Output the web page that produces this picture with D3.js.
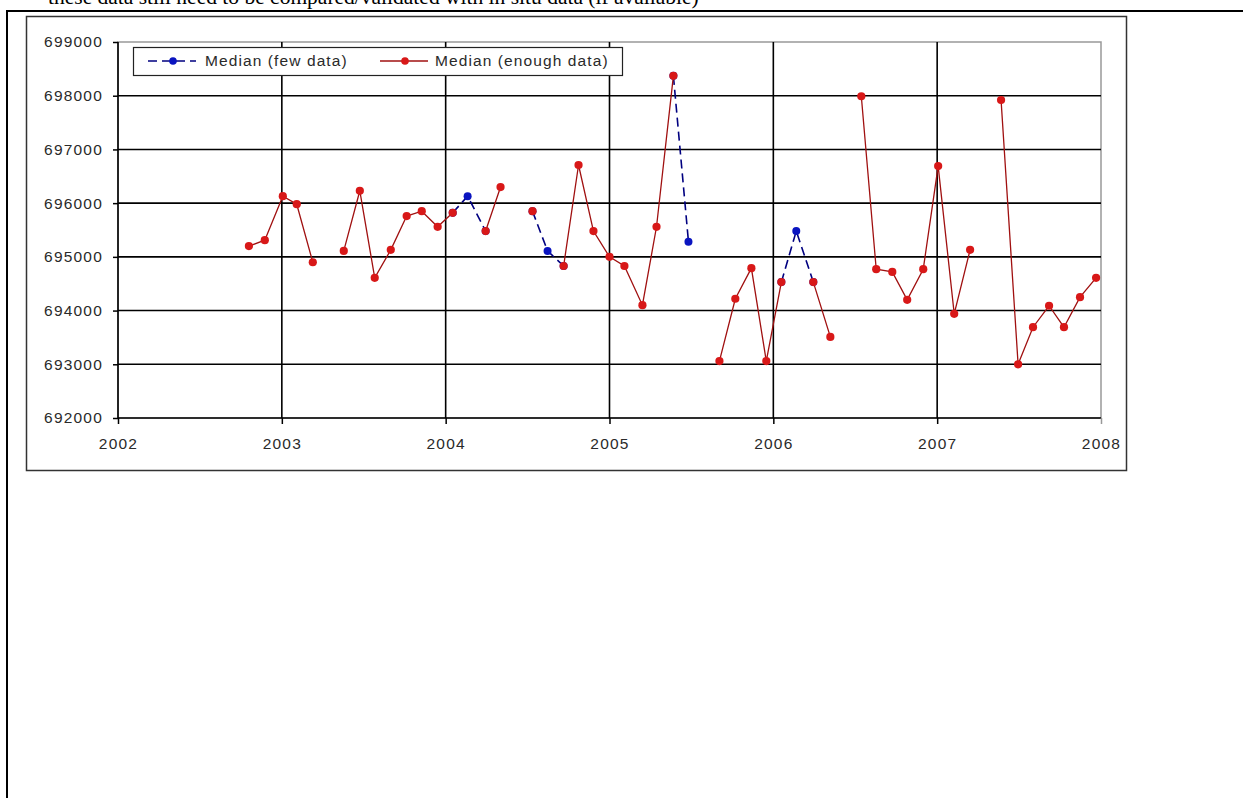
<!DOCTYPE html>
<html>
<head>
<meta charset="utf-8">
<script src="https://cdn.jsdelivr.net/npm/d3@7"></script>
<style>
  body { margin: 0; background: #fff; }
  svg { display: block; }
</style>
</head>
<body>
<div id="chart"></div>
<script>
// Median (enough data) - null breaks the line
var enoughYears = [2002.799, 2002.896, 2003.006, 2003.091, 2003.189, 2003.284, 2003.378, 2003.476, 2003.567, 2003.665,
  2003.762, 2003.854, 2003.951, 2004.043, 2004.134, 2004.244, 2004.335, 2004.433, 2004.530, 2004.622,
  2004.720, 2004.811, 2004.902, 2005.000, 2005.091, 2005.201, 2005.287, 2005.390, 2005.482, 2005.579,
  2005.671, 2005.768, 2005.866, 2005.957, 2006.049, 2006.140, 2006.244, 2006.348, 2006.442, 2006.537,
  2006.628, 2006.726, 2006.817, 2006.915, 2007.006, 2007.104, 2007.201, 2007.296, 2007.390, 2007.494,
  2007.585, 2007.683, 2007.774, 2007.872, 2007.970];
var enoughValues = [695200, 695310, 696130, 695980, 694900, null, 695110, 696230, 694610, 695130,
  695760, 695850, 695560, 695820, null, 695480, 696300, null, 695850, null,
  694830, 696710, 695480, 695000, 694830, 694100, 695560, 698370, null, null,
  693060, 694220, 694790, 693060, 694530, null, 694530, 693510, null, 697990,
  694770, 694720, 694200, 694770, 696690, 693940, 695130, null, 697920, 693000,
  693690, 694090, 693690, 694250, 694610];

// Median (few data)
var fewYears = [2004.043, 2004.134, 2004.244, 2004.433, 2004.530, 2004.622, 2004.720, 2005.000,
  2005.390, 2005.482, 2005.700, 2006.049, 2006.140, 2006.244];
var fewValues = [695820, 696130, 695480, null, 695850, 695110, 694830, null,
  698370, 695280, null, 694530, 695480, 694530];

var yTicks = [692000, 693000, 694000, 695000, 696000, 697000, 698000, 699000];
var xTicks = [2002, 2003, 2004, 2005, 2006, 2007, 2008];
var seriesNames = ['Median (few data)', 'Median (enough data)'];

var W = 1243, H = 798;
var svg = d3.select('#chart').append('svg')
  .attr('width', W)
  .attr('height', H);

// page text cut off at the top
svg.append('text')
  .attr('x', 48)
  .attr('y', 4)
  .style('font-family', '"Liberation Serif", "Times New Roman", serif')
  .style('font-size', '21.5px')
  .style('fill', '#000')
  .text('these data still need to be compared/validated with in situ data (if available)');

svg.append('line')
  .attr('x1', 6).attr('x2', W).attr('y1', 11).attr('y2', 11)
  .style('stroke', '#000').style('stroke-width', 2);
svg.append('line')
  .attr('x1', 7).attr('x2', 7).attr('y1', 10).attr('y2', H)
  .style('stroke', '#000').style('stroke-width', 2);

// chart area
svg.append('rect')
  .attr('x', 26.5).attr('y', 16.5)
  .attr('width', 1100).attr('height', 454)
  .style('fill', '#fff')
  .style('stroke', '#333')
  .style('stroke-width', 1.5);

var x = d3.scaleLinear().domain([2002, 2008]).range([118, 1101]);
var y = d3.scaleLinear().domain([692000, 699000]).range([418, 42]);

var labelFont = '"Liberation Sans", Arial, sans-serif';

// plot area border
svg.append('rect')
  .attr('x', x(2002)).attr('y', y(699000))
  .attr('width', x(2008) - x(2002)).attr('height', y(692000) - y(699000))
  .style('fill', 'none')
  .style('stroke', '#999')
  .style('stroke-width', 1.5);

// gridlines
svg.append('g')
  .selectAll('line.hg')
  .data(yTicks.slice(0, -1))
  .enter().append('line')
  .attr('x1', x(2002)).attr('x2', x(2008))
  .attr('y1', function(d) { return y(d); })
  .attr('y2', function(d) { return y(d); })
  .style('stroke', '#000').style('stroke-width', 1.6);

svg.append('g')
  .selectAll('line.vg')
  .data(xTicks.slice(0, -1))
  .enter().append('line')
  .attr('x1', function(d) { return x(d); })
  .attr('x2', function(d) { return x(d); })
  .attr('y1', y(699000)).attr('y2', y(692000))
  .style('stroke', '#000').style('stroke-width', 1.6);

// axes
var yAxis = svg.append('g')
  .attr('transform', 'translate(' + x(2002) + ',0)')
  .call(d3.axisLeft(y).tickValues(yTicks).tickSize(5).tickPadding(10).tickFormat(d3.format('d')));
var xAxis = svg.append('g')
  .attr('transform', 'translate(0,' + y(692000) + ')')
  .call(d3.axisBottom(x).tickValues(xTicks).tickSize(6).tickPadding(14).tickFormat(d3.format('d')));

[yAxis, xAxis].forEach(function(ax) {
  ax.select('.domain').remove();
  ax.selectAll('line').style('stroke', '#000').style('stroke-width', 1.5);
  ax.selectAll('text')
    .style('font-family', labelFont)
    .style('font-size', '15.5px')
    .style('letter-spacing', '1.2px')
    .style('fill', '#2a2a2a');
});
xAxis.select('.tick:last-of-type line').style('stroke', '#999');

// series
var lineGen = d3.line()
  .defined(function(d) { return d[1] !== null; })
  .x(function(d) { return x(d[0]); })
  .y(function(d) { return y(d[1]); });

var fewData = fewYears.map(function(d, i) { return [d, fewValues[i]]; });
var enoughData = enoughYears.map(function(d, i) { return [d, enoughValues[i]]; });

svg.append('path')
  .datum(fewData)
  .attr('d', lineGen)
  .style('fill', 'none')
  .style('stroke', '#000080')
  .style('stroke-width', 1.6)
  .style('stroke-dasharray', '9,5');

svg.selectAll('circle.few')
  .data(fewData.filter(function(d) { return d[1] !== null; }))
  .enter().append('circle')
  .attr('class', 'few')
  .attr('cx', function(d) { return x(d[0]); })
  .attr('cy', function(d) { return y(d[1]); })
  .attr('r', 4)
  .style('fill', '#0a14c0');

svg.append('path')
  .datum(enoughData)
  .attr('d', lineGen)
  .style('fill', 'none')
  .style('stroke', '#a01010')
  .style('stroke-width', 1.3);

svg.selectAll('circle.enough')
  .data(enoughData.filter(function(d) { return d[1] !== null; }))
  .enter().append('circle')
  .attr('class', 'enough')
  .attr('cx', function(d) { return x(d[0]); })
  .attr('cy', function(d) { return y(d[1]); })
  .attr('r', 4.1)
  .style('fill', '#d81818');

// legend
var legend = svg.append('g');
legend.append('rect')
  .attr('x', 133.5).attr('y', 47.5)
  .attr('width', 489).attr('height', 28)
  .style('fill', '#fff')
  .style('stroke', '#222')
  .style('stroke-width', 1.2);

var legendItems = [
  {name: seriesNames[0], x0: 148, color: '#000080', dot: '#0a14c0', dash: '9,5', tx: 205},
  {name: seriesNames[1], x0: 380, color: '#a01010', dot: '#d81818', dash: null, tx: 435}
];
legendItems.forEach(function(it) {
  legend.append('line')
    .attr('x1', it.x0).attr('x2', it.x0 + 48)
    .attr('y1', 61).attr('y2', 61)
    .style('stroke', it.color)
    .style('stroke-width', 1.5)
    .style('stroke-dasharray', it.dash);
  legend.append('circle')
    .attr('cx', it.x0 + 25).attr('cy', 61).attr('r', 3.8)
    .style('fill', it.dot);
  legend.append('text')
    .attr('x', it.tx).attr('y', 66)
    .style('font-family', labelFont)
    .style('font-size', '15.5px')
    .style('letter-spacing', '1.1px')
    .style('fill', '#2a2a2a')
    .text(it.name);
});
</script>
</body>
</html>
